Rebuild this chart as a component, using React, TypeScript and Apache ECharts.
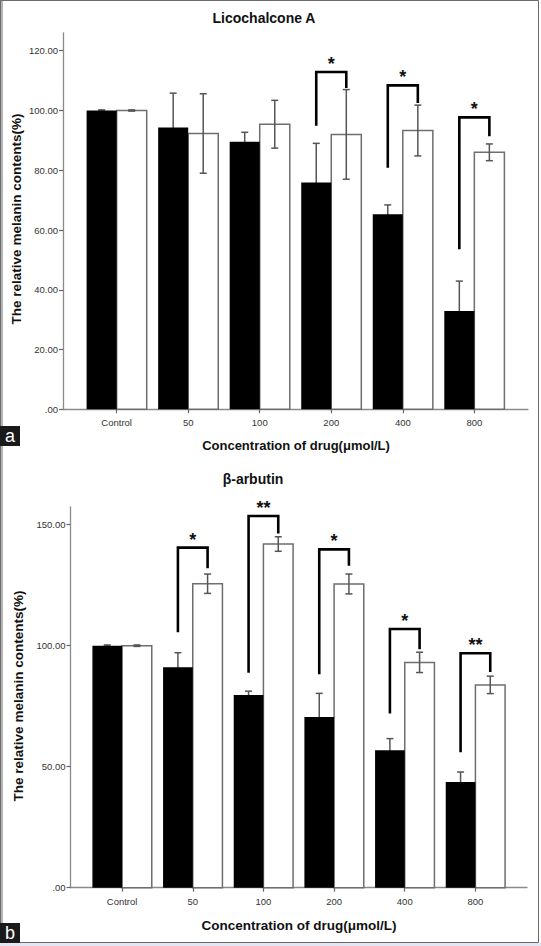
import React, { useEffect, useRef } from "react";
import * as echarts from "echarts";

const categories = ["Control", "50", "100", "200", "400", "800"];

// Panel a: Licochalcone A
const licoBlack = [100, 94.3, 89.5, 75.9, 65.3, 32.9];
const licoBlackErr = [0.2, 11.5, 3.2, 13.1, 3.1, 10.0];
const licoWhite = [100, 92.3, 95.4, 92.0, 93.3, 86.0];
const licoWhiteErr = [0.2, 13.3, 8.0, 15.0, 8.5, 2.8];
const licoSig = ["", "", "", "*", "*", "*"];
const licoBracketLeft = [0, 0, 0, 94.9, 80.8, 53.6];
const licoBracketRight = [0, 0, 0, 107.5, 102.5, 91.4];
const licoBracketTop = [0, 0, 0, 112.9, 108.4, 97.7];
const licoTicks = [0, 20, 40, 60, 80, 100, 120];

// Panel b: beta-arbutin
const arbBlack = [100, 91.1, 79.6, 70.5, 56.8, 43.7];
const arbBlackErr = [0.3, 6.0, 1.6, 9.8, 4.8, 4.1];
const arbWhite = [100, 125.6, 142.0, 125.5, 93.1, 83.8];
const arbWhiteErr = [0.3, 4.0, 3.0, 4.1, 4.2, 3.6];
const arbSig = ["", "*", "**", "*", "*", "**"];
const arbBracketLeft = [0, 105.5, 88.8, 88.2, 72.0, 56.0];
const arbBracketRight = [0, 132.0, 146.4, 133.0, 98.5, 89.1];
const arbBracketTop = [0, 140.5, 153.6, 139.8, 106.9, 96.9];
const arbTicks = [0, 50, 100, 150];

const FONT = "'Liberation Sans', Arial, Helvetica, sans-serif";
const BAR_FRAC = 0.42;
const AXIS_COLOR = "#8a8a8a";

function buildSeries(
  gi: number,
  black: number[],
  blackErr: number[],
  white: number[],
  whiteErr: number[],
  sig: string[],
  bl: number[],
  br: number[],
  bt: number[]
) {
  const idx = categories.map((_, i) => i);
  const barRender = (side: number) => (params: any, api: any) => {
    const i = api.value(0);
    const v = api.value(1);
    const top = api.coord([i, v]);
    const base = api.coord([i, 0]);
    const bw = api.size([1, 0])[0] * BAR_FRAC;
    if (side < 0) {
      return {
        type: "rect",
        shape: { x: top[0] - bw, y: top[1], width: bw, height: base[1] - top[1] },
        style: { fill: "#000" },
      };
    }
    return {
      type: "rect",
      shape: { x: top[0], y: top[1], width: bw, height: base[1] - top[1] },
      style: { fill: "#fff", stroke: "#6e6e6e", lineWidth: 1.5 },
    };
  };
  const errRender = (params: any, api: any) => {
    const i = api.value(0);
    const v = api.value(1);
    const e = api.value(2);
    const s = api.value(3);
    const bw = api.size([1, 0])[0] * BAR_FRAC;
    const cx = api.coord([i, v])[0] + (s * bw) / 2;
    const yt = api.coord([i, v + e])[1];
    const yb = api.coord([i, v - e])[1];
    const cap = 3.5;
    const st = { stroke: "#555", lineWidth: 1.5 };
    return {
      type: "group",
      children: [
        { type: "line", shape: { x1: cx, y1: yt, x2: cx, y2: yb }, style: st },
        { type: "line", shape: { x1: cx - cap, y1: yt, x2: cx + cap, y2: yt }, style: st },
        { type: "line", shape: { x1: cx - cap, y1: yb, x2: cx + cap, y2: yb }, style: st },
      ],
    };
  };
  const sigIdx = idx.filter((i) => sig[i]);
  const bracketRender = (params: any, api: any) => {
    const i = api.value(0);
    const lb = api.value(1);
    const rb = api.value(2);
    const tp = api.value(3);
    const bw = api.size([1, 0])[0] * BAR_FRAC;
    const c = api.coord([i, tp]);
    const xl = c[0] - bw / 2;
    const xr = c[0] + bw / 2;
    const yl = api.coord([i, lb])[1];
    const yr = api.coord([i, rb])[1];
    return {
      type: "group",
      children: [
        {
          type: "polyline",
          shape: { points: [[xl, yl], [xl, c[1]], [xr, c[1]], [xr, yr]] },
          style: { stroke: "#000", lineWidth: 2.6, fill: null, lineJoin: "miter" },
        },
        {
          type: "text",
          x: c[0],
          y: c[1] - 8,
          style: {
            text: sig[sigIdx[params.dataIndex]],
            fontSize: 18,
            fontWeight: "bold",
            fontFamily: FONT,
            fill: "#111",
            align: "center",
            verticalAlign: "middle",
          },
        },
      ],
    };
  };
  return [
    {
      type: "custom",
      xAxisIndex: gi,
      yAxisIndex: gi,
      silent: true,
      renderItem: barRender(1),
      data: idx.map((i) => [i, white[i]]),
      z: 2,
    },
    {
      type: "custom",
      xAxisIndex: gi,
      yAxisIndex: gi,
      silent: true,
      renderItem: errRender,
      data: [
        ...idx.map((i) => [i, black[i], blackErr[i], -1]),
        ...idx.map((i) => [i, white[i], whiteErr[i], 1]),
      ],
      z: 3,
    },
    {
      type: "custom",
      xAxisIndex: gi,
      yAxisIndex: gi,
      silent: true,
      renderItem: barRender(-1),
      data: idx.map((i) => [i, black[i]]),
      z: 4,
    },
    {
      type: "custom",
      xAxisIndex: gi,
      yAxisIndex: gi,
      silent: true,
      renderItem: bracketRender,
      data: sigIdx.map((i) => [i, bl[i], br[i], bt[i]]),
      z: 5,
    },
  ];
}

function xAxisCfg(gi: number, pad: number, margin: number) {
  const vals = categories.map((_, i) => i);
  return {
    type: "value",
    gridIndex: gi,
    min: -0.5 - pad,
    max: 5.5 + pad,
    splitLine: { show: false },
    axisLine: { show: true, onZero: false, lineStyle: { color: AXIS_COLOR, width: 1.3 } },
    axisTick: { show: true, customValues: vals, length: 4, lineStyle: { color: "#666", width: 1.2 } },
    axisLabel: {
      customValues: vals,
      formatter: (v: number) => categories[Math.round(v)] ?? "",
      fontSize: 9.5,
      color: "#333",
      fontFamily: FONT,
      margin,
    },
  };
}

function yAxisCfg(gi: number, max: number, ticks: number[]) {
  return {
    type: "value",
    gridIndex: gi,
    min: 0,
    max,
    splitLine: { show: false },
    axisLine: { show: true, onZero: false, lineStyle: { color: AXIS_COLOR, width: 1.3 } },
    axisTick: { show: true, customValues: ticks, length: 4, lineStyle: { color: "#666", width: 1.2 } },
    axisLabel: {
      customValues: ticks,
      formatter: (v: number) => (v === 0 ? ".00" : v.toFixed(2)),
      fontSize: 9.5,
      color: "#333",
      fontFamily: FONT,
      margin: 5,
    },
  };
}

function textEl(text: string, x: number, y: number, size: number, extra: any = {}) {
  return {
    type: "text",
    x,
    y,
    ...extra,
    style: {
      text,
      fontSize: size,
      fontWeight: "bold",
      fontFamily: FONT,
      fill: "#111",
      align: "center",
      verticalAlign: "middle",
      ...(extra.style || {}),
    },
  };
}

export default function App() {
  const ref = useRef<HTMLDivElement>(null);
  useEffect(() => {
    if (!ref.current) return;
    const chart = echarts.init(ref.current, null, { renderer: "svg" });
    const option: any = {
      animation: false,
      backgroundColor: "#fff",
      grid: [
        { left: 63, top: 32.8, width: 465, height: 376.5 },
        { left: 70.5, top: 507, width: 456.5, height: 380.7 },
      ],
      xAxis: [xAxisCfg(0, 0.25, 8), xAxisCfg(1, 0.23, 9)],
      yAxis: [yAxisCfg(0, 126, licoTicks), yAxisCfg(1, 157.3, arbTicks)],
      series: [
        ...buildSeries(0, licoBlack, licoBlackErr, licoWhite, licoWhiteErr, licoSig, licoBracketLeft, licoBracketRight, licoBracketTop),
        ...buildSeries(1, arbBlack, arbBlackErr, arbWhite, arbWhiteErr, arbSig, arbBracketLeft, arbBracketRight, arbBracketTop),
      ],
      graphic: [
        // frame
        { type: "rect", shape: { x: 0, y: 943, width: 541, height: 3 }, style: { fill: "#e4e7f3" }, z: -1 },
        { type: "rect", shape: { x: 0, y: 0, width: 3, height: 943 }, style: { fill: "#b4b4b4" }, z: 10 },
        {
          type: "rect",
          shape: { x: 0.5, y: 0.5, width: 538, height: 942 },
          style: { fill: null, stroke: "#6a6a6a", lineWidth: 1 },
          z: 10,
        },
        // titles
        textEl("Licochalcone A", 264, 18, 14),
        textEl("β-arbutin", 253, 479, 14),
        // y axis names
        textEl("The relative melanin contents(%)", 16.5, 219, 13.5, { rotation: Math.PI / 2 }),
        textEl("The relative melanin contents(%)", 18, 696, 13.5, { rotation: Math.PI / 2 }),
        // x axis names
        textEl("Concentration of drug(μmol/L)", 296, 445, 13),
        textEl("Concentration of drug(μmol/L)", 299, 925.5, 13.5),
        // panel labels
        { type: "rect", shape: { x: 0, y: 426, width: 20, height: 20 }, style: { fill: "#1a1a1a" }, z: 11 },
        {
          type: "text",
          x: 10,
          y: 436,
          z: 12,
          style: { text: "a", fontSize: 18, fontFamily: FONT, fill: "#fff", align: "center", verticalAlign: "middle" },
        },
        { type: "rect", shape: { x: 0, y: 923, width: 20, height: 20 }, style: { fill: "#1a1a1a" }, z: 11 },
        {
          type: "text",
          x: 10,
          y: 933,
          z: 12,
          style: { text: "b", fontSize: 18, fontFamily: FONT, fill: "#fff", align: "center", verticalAlign: "middle" },
        },
      ],
    };
    chart.setOption(option);
    return () => chart.dispose();
  }, []);
  return (
    <div
      ref={ref}
      style={{ position: "absolute", left: 0, top: 0, width: 541, height: 946 }}
    />
  );
}
